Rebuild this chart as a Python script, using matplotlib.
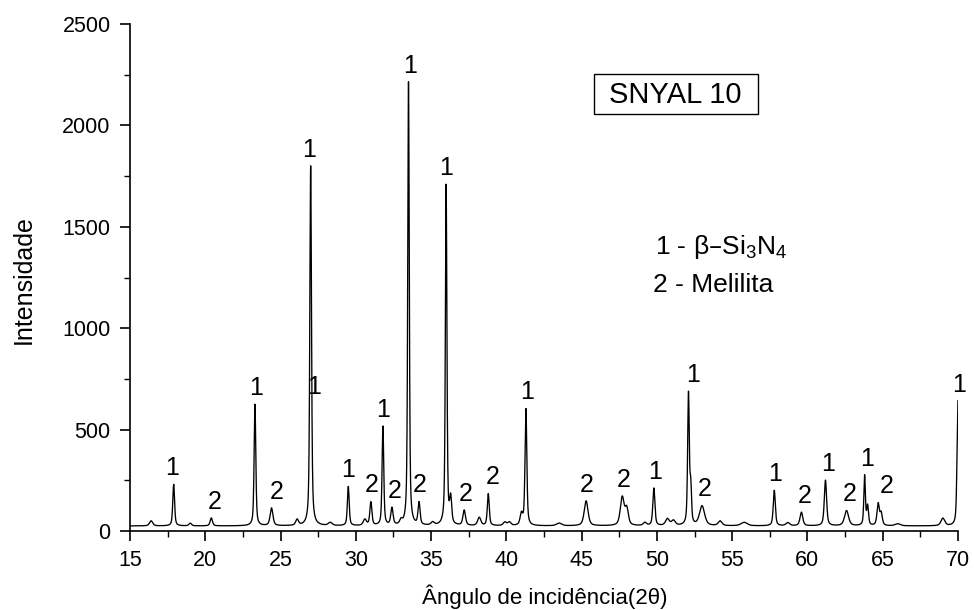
import numpy as np
import matplotlib
matplotlib.use("Agg")
import matplotlib.pyplot as plt
from matplotlib.patches import Rectangle

plt.rcParams['font.family'] = ['Liberation Sans', 'DejaVu Sans']
plt.rcParams['mathtext.default'] = 'regular'

# XRD pattern, SNYAL 10 sample: peak position (2theta), peak intensity, FWHM
peak_pos = [16.4, 17.9, 19.0, 20.4, 23.3, 24.4, 26.1, 27.0, 28.3, 29.5,
            30.6, 31.0, 31.8, 32.4, 33.0, 33.5, 34.2, 35.1, 36.0, 36.3,
            37.2, 38.2, 38.8, 39.9, 40.2, 41.0, 41.3, 43.5, 45.3, 47.7,
            48.0, 49.2, 49.8, 50.7, 51.1, 52.1, 52.25, 53.0, 54.2, 55.8,
            57.8, 58.7, 59.6, 61.2, 62.6, 63.8, 64.0, 64.7, 64.9, 66.0,
            69.0, 70.0]
peak_int = [50, 230, 38, 64, 624, 112, 54, 1800, 40, 218,
            55, 140, 514, 110, 45, 2213, 135, 40, 1704, 150,
            100, 65, 182, 42, 42, 80, 600, 38, 148, 165,
            105, 40, 210, 58, 50, 672, 200, 122, 48, 42,
            200, 40, 92, 250, 100, 270, 120, 132, 85, 35,
            62, 642]
peak_fwhm = [0.25, 0.14, 0.2, 0.18, 0.13, 0.22, 0.22, 0.13, 0.3, 0.14,
             0.25, 0.16, 0.13, 0.18, 0.2, 0.12, 0.16, 0.25, 0.12, 0.16,
             0.2, 0.25, 0.15, 0.25, 0.25, 0.2, 0.14, 0.4, 0.3, 0.3,
             0.25, 0.25, 0.16, 0.3, 0.3, 0.13, 0.12, 0.4, 0.3, 0.5,
             0.16, 0.3, 0.22, 0.18, 0.32, 0.12, 0.14, 0.18, 0.18, 0.4,
             0.3, 0.14]
background = 25

# phase marks: 1 = beta-Si3N4, 2 = melilite
mark_pos = [17.9, 20.4, 23.3, 24.4, 27.0, 29.5, 31.0, 31.8, 32.4, 33.5,
            34.2, 36.0, 37.2, 38.8, 41.3, 45.3, 47.7, 49.8, 52.1, 53.0,
            57.8, 59.6, 61.2, 62.6, 63.8, 64.7, 70.0]
mark_phase = ['1', '2', '1', '2', '1', '1', '2', '1', '2', '1',
              '2', '1', '2', '2', '1', '2', '2', '1', '1', '2',
              '1', '2', '1', '2', '1', '2', '1']
mark_dx = [-0.1, 0.25, 0.1, 0.35, -0.1, 0.0, 0.05, 0.0, 0.15, 0.1,
           0.05, 0.0, 0.1, 0.3, 0.1, 0.05, 0.1, 0.1, 0.3, 0.15,
           0.05, 0.2, 0.15, 0.2, 0.15, 0.55, 0.1]


def pseudo_voigt(x, x0, amp, fwhm, eta=0.55):
    u = (x - x0) / (fwhm / 2)
    return amp * (eta / (1 + u ** 2) + (1 - eta) * np.exp(-np.log(2) * u ** 2))


two_theta = np.arange(15, 70.0001, 0.01)
intensity = np.full_like(two_theta, background, dtype=float)
for x0, h, w in zip(peak_pos, peak_int, peak_fwhm):
    intensity += pseudo_voigt(two_theta, x0, h - background, w)

fig = plt.figure(figsize=(9.74, 6.10), dpi=100)
ax = fig.add_axes([0.1335, 0.1295, 0.850, 0.831])

ax.plot(two_theta, intensity, color='black', lw=0.95)

for x0, ph, dx in zip(mark_pos, mark_phase, mark_dx):
    h = np.interp(x0, two_theta, intensity)
    ax.annotate(ph, xy=(x0 + dx, h), xytext=(0, 3), textcoords='offset points',
                ha='center', va='bottom', fontsize=18, annotation_clip=False)
# second mark on the flank of the 27 degree reflection
ax.text(27.2, 650, '1', ha='center', va='bottom', fontsize=18)

# sample name in a framed box
ax.add_patch(Rectangle((0.5604, 0.8225), 0.1981, 0.0789, transform=ax.transAxes,
                       fc='white', ec='black', lw=1.0))
ax.text(0.659, 0.861, 'SNYAL 10', transform=ax.transAxes, ha='center', va='center',
        fontsize=21)
ax.text(0.634, 0.560, r'1 - β–Si$_{3}$N$_{4}$', transform=ax.transAxes,
        ha='left', va='center', fontsize=19)
ax.text(0.632, 0.485, '2 - Melilita', transform=ax.transAxes,
        ha='left', va='center', fontsize=19)

ax.set_xlim(15, 70)
ax.set_ylim(0, 2500)
ax.set_xticks(np.arange(15, 71, 5))
ax.set_xticks(np.arange(15, 70.1, 2.5), minor=True)
ax.set_yticks(np.arange(0, 2501, 500))
ax.set_yticks(np.arange(0, 2501, 250), minor=True)

for side in ['top', 'right']:
    ax.spines[side].set_visible(False)
for side in ['left', 'bottom']:
    ax.spines[side].set_linewidth(1.2)

ax.tick_params(which='major', direction='out', length=7, width=1.2, labelsize=15.5, pad=7)
ax.tick_params(axis='x', which='major', pad=7)
ax.tick_params(which='minor', direction='out', length=4, width=1.0)

ax.set_xlabel('Ângulo de incidência(2θ)', fontsize=16)
ax.set_ylabel('Intensidade', fontsize=18)
ax.xaxis.set_label_coords(0.501, -0.105)
ax.yaxis.set_label_coords(-0.114, 0.497)

fig.savefig('out.png', dpi=100)
